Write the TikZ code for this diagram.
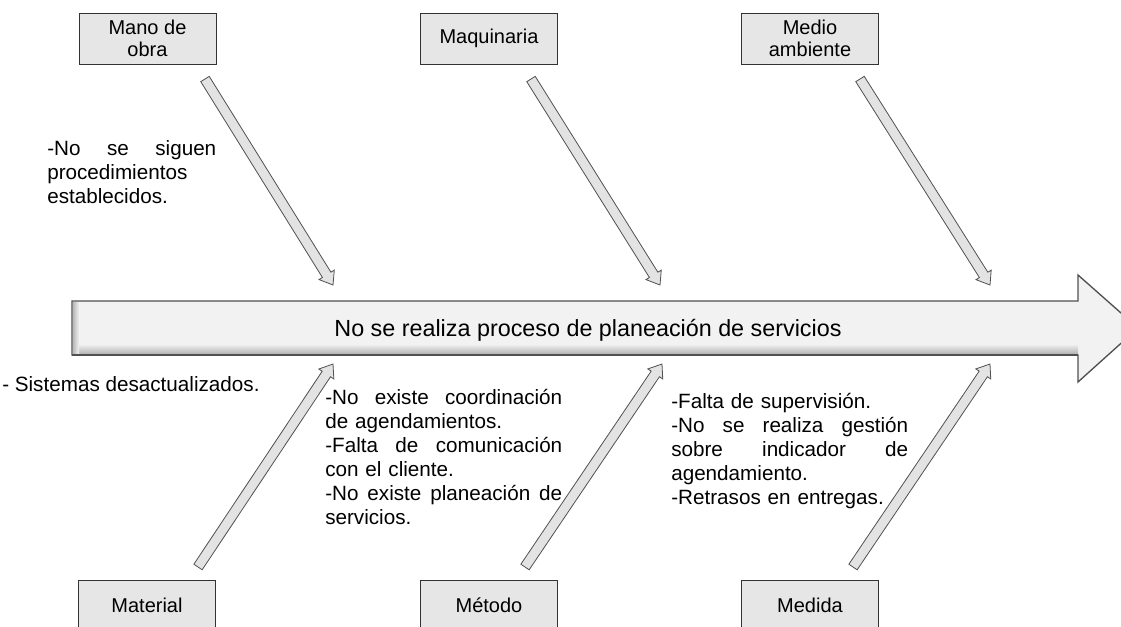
\documentclass[tikz,border=0pt]{standalone}
\usepackage{fontspec}
\setmainfont{Liberation Sans}
\usetikzlibrary{calc}

\definecolor{boxfill}{HTML}{E6E6E6}
\definecolor{bonefill}{HTML}{E3E3E3}
\definecolor{spinefill}{HTML}{F2F2F2}
\definecolor{edgegray}{HTML}{505050}

\tikzset{
    cause/.style={
        draw=black!80,
        fill=boxfill,
        line width=0.6pt,
        minimum width=102.75pt,
        minimum height=38.25pt,
        align=center,
        font=\fontsize{15pt}{16.5pt}\selectfont
    },
    bone/.style={draw=edgegray, fill=bonefill, line width=0.6pt},
    spine/.style={draw=edgegray, fill=spinefill, line width=1pt},
    note/.style={
        inner sep=0pt,
        text width=#1,
        align=left,
        font=\fontsize{15.5pt}{18pt}\selectfont
    }
}

% justified line
\newcommand\js[1]{\makebox[\hsize][s]{\spaceskip=0pt #1}}

\begin{document}
\begin{tikzpicture}[x=0.75pt, y=-0.75pt]
    \useasboundingbox (0,0) rectangle (1121,626);

    % main spine
    \draw[spine] (72,301) -- (1078,301) -- (1078,275) -- (1138,328)
        -- (1078,382) -- (1078,355) -- (72,355) -- cycle;
    \shade[top color=spinefill, bottom color=gray!60] (73,344) rectangle (1078,354);
    \shade[left color=gray!55, right color=spinefill] (73,302) rectangle (79,354);
    \draw[edgegray, line width=1pt] (72,355) -- (1078,355);
    \node[
        anchor=base,
        font=\fontsize{17.5pt}{21pt}\selectfont,
        name=efecto
    ] at (588,336) {No se realiza proceso de planeación de servicios};

    % cause boxes
    \node[cause, name=mano] at (147.5,38.5) {Mano de\\obra};
    \node[cause, name=maquina] at (489,38.5) {Maquinaria};
    \node[cause, name=medio] at (810,38.5) {Medio\\ambiente};
    \node[cause, name=material] at (147,605.5) {Material};
    \node[cause, name=metodo] at (489,605.5) {Método};
    \node[cause, name=medida] at (810,605.5) {Medida};

    % bones
    \coordinate (manoT) at (205,79);
    \coordinate (manoP) at (333,285);
    \coordinate (maquinaT) at (531,79);
    \coordinate (maquinaP) at (660,285);
    \coordinate (medioT) at (860,79);
    \coordinate (medioP) at (990,285);
    \coordinate (materialT) at (198,567);
    \coordinate (materialP) at (333,364);
    \coordinate (metodoT) at (525,567);
    \coordinate (metodoP) at (662,364);
    \coordinate (medidaT) at (853,567);
    \coordinate (medidaP) at (990,364);

    \foreach \t/\p in {manoT/manoP, maquinaT/maquinaP, medioT/medioP,
                       materialT/materialP, metodoT/metodoP, medidaT/medidaP} {
        \coordinate (h) at ($(\p)!9pt!(\t)$);
        \draw[bone] ($(\t)!3.75pt!90:(\p)$) -- ($(h)!3.75pt!90:(\p)$)
            -- ($(h)!6.75pt!90:(\p)$) -- (\p) -- ($(h)!6.75pt!-90:(\p)$)
            -- ($(h)!3.75pt!-90:(\p)$) -- ($(\t)!3.75pt!-90:(\p)$) -- cycle;
    }

    % notes
    \node[note=126.75pt, anchor=base west, name=notamano] at (47,155)
        {\js{-No se siguen}\\procedimientos\\establecidos.};
    \node[
        inner sep=0pt,
        anchor=base west,
        font=\fontsize{15.5pt}{18pt}\selectfont,
        name=notamaterial
    ] at (2,391) {- Sistemas desactualizados.};
    \node[note=177.75pt, anchor=base west, name=notametodo] at (325,404)
        {\js{-No existe coordinación}\\de agendamientos.\\\js{-Falta de comunicación}\\con el cliente.\\\js{-No existe planeación de}\\servicios.};
    \node[note=177.75pt, anchor=base west, name=notamedida] at (671,408)
        {-Falta de supervisión.\\\js{-No se realiza gestión}\\\js{sobre indicador de}\\agendamiento.\\-Retrasos en entregas.};
\end{tikzpicture}
\end{document}
